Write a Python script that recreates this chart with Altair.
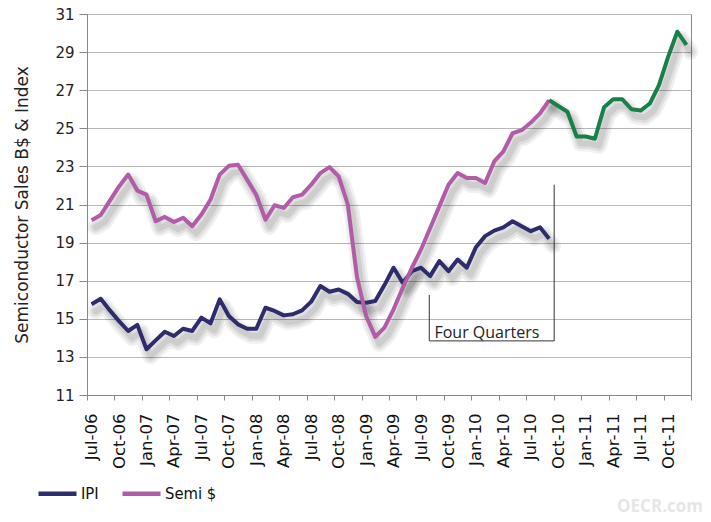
import altair as alt
import pandas as pd

# Quarter tick labels (one label every three months, Jul-06 .. Oct-11)
quarter_labels = ["Jul-06", "Oct-06", "Jan-07", "Apr-07", "Jul-07", "Oct-07",
                  "Jan-08", "Apr-08", "Jul-08", "Oct-08", "Jan-09", "Apr-09",
                  "Jul-09", "Oct-09", "Jan-10", "Apr-10", "Jul-10", "Oct-10",
                  "Jan-11", "Apr-11", "Jul-11", "Oct-11"]

# Monthly values, Jul-06 .. Sep-10
ipi = [15.76, 16.05, 15.44, 14.88, 14.36, 14.68, 13.40, 13.87, 14.32, 14.10,
       14.48, 14.36, 15.06, 14.76, 16.02, 15.15, 14.71, 14.48, 14.48, 15.58,
       15.41, 15.18, 15.24, 15.44, 15.90, 16.72, 16.42, 16.54, 16.31, 15.88,
       15.84, 15.93, 16.77, 17.68, 16.89, 17.50, 17.68, 17.24, 18.03, 17.50,
       18.11, 17.68, 18.76, 19.34, 19.63, 19.80, 20.12, 19.86, 19.60, 19.80,
       19.20]
semi = [20.17, 20.45, 21.20, 21.95, 22.57, 21.73, 21.52, 20.12, 20.35, 20.08,
        20.30, 19.86, 20.47, 21.26, 22.57, 23.03, 23.09, 22.30, 21.50, 20.20,
        20.96, 20.82, 21.38, 21.52, 22.04, 22.65, 22.96, 22.48, 21.00, 17.20,
        15.15, 14.05, 14.54, 15.50, 16.63, 17.68, 18.64, 19.77, 20.90, 22.04,
        22.65, 22.39, 22.39, 22.13, 23.26, 23.79, 24.74, 24.90, 25.30, 25.78,
        26.48]
# Recent semiconductor sales, Sep-10 .. Dec-11 (green)
semi_recent = [26.48, 26.17, 25.87, 24.57, 24.57, 24.45, 26.10, 26.52, 26.52,
               26.00, 25.93, 26.30, 27.27, 28.75, 30.07, 29.38]
recent_start = len(semi) - 1

series_names = ["IPI", "Semi $", "Semi $ recent"]
series_colors = ["#2e2c6a", "#b05ca6", "#19804a"]

rows = []
for i, v in enumerate(ipi):
    rows.append({"m": i, "v": v, "s": "IPI"})
for i, v in enumerate(semi):
    rows.append({"m": i, "v": v, "s": "Semi $"})
for k, v in enumerate(semi_recent):
    rows.append({"m": recent_start + k, "v": v, "s": "Semi $ recent"})
df = pd.DataFrame(rows)

# "Four Quarters" bracket, in data units (month index, value)
bracket_x = [36.9, 50.55]
bracket_y_low = 13.84
bracket_y_left_top = 16.25
bracket_y_right_top = 22.04
bracket_label = "Four Quarters"

n_months = 3 * len(quarter_labels)
xscale = alt.Scale(domain=[-0.5, n_months - 0.5], nice=False, zero=False)
yscale = alt.Scale(domain=[11, 31], nice=False, zero=False)

label_js = "[" + ",".join("'%s'" % l for l in quarter_labels) + ",'']"
xaxis = alt.Axis(
    values=[-0.5 + 3 * k for k in range(len(quarter_labels) + 1)],
    labelExpr=label_js + "[round((datum.value + 0.5) / 3)]",
    labelAngle=-90, labelOffset=4.6, labelFont="DejaVu Sans", labelFontSize=16.5,
    labelColor="#111", labelPadding=13, labelFlush=False, labelOverlap=False,
    labelBound=False, tickSize=5, tickColor="#888", domainColor="#888",
    grid=False, title=None,
)
yaxis = alt.Axis(
    values=list(range(11, 32, 2)), grid=True, gridColor="#b8b8b8", gridWidth=1,
    tickSize=8, tickColor="#888", domainColor="#888", labelOverlap=False,
    labelFlush=False, labelBound=False,
    labelFont="DejaVu Sans", labelFontSize=15, labelColor="#222", labelPadding=5,
    title="Semiconductor Sales B$ & Index", titleFont="DejaVu Sans",
    titleFontSize=17, titleFontWeight="normal", titleColor="#222", titlePadding=23,
)


def X(field):
    return alt.X(field, type="quantitative", scale=xscale, axis=xaxis)


def Y(field):
    return alt.Y(field, type="quantitative", scale=yscale, axis=yaxis)


base = alt.Chart(df)

shadows = [
    base.mark_line(color="#000", opacity=op, strokeWidth=sw, xOffset=4, yOffset=7,
                   strokeJoin="round", strokeCap="round")
    .encode(x=X("m"), y=Y("v"), detail="s:N")
    for op, sw in [(0.06, 16), (0.07, 11), (0.08, 6)]
]

lines = base.mark_line(strokeWidth=4, strokeJoin="round").encode(
    x=X("m"), y=Y("v"),
    color=alt.Color("s:N", scale=alt.Scale(domain=series_names, range=series_colors),
                    legend=alt.Legend(values=["IPI", "Semi $"], orient="none",
                                      legendX=-51, legendY=458, direction="horizontal",
                                      symbolType="stroke", symbolSize=1444,
                                      symbolStrokeWidth=4.5,
                                      labelFont="DejaVu Sans Condensed",
                                      labelFontSize=16.5, labelColor="#111",
                                      columnPadding=14, labelOffset=2, title=None)),
)

bdf_v = pd.DataFrame({"m": bracket_x, "v": [bracket_y_left_top, bracket_y_right_top],
                      "v2": [bracket_y_low, bracket_y_low]})
bdf_h = pd.DataFrame({"m": [bracket_x[0]], "m2": [bracket_x[1]], "v": [bracket_y_low]})
rule_v = alt.Chart(bdf_v).mark_rule(color="#333", strokeWidth=1).encode(
    x=X("m"), y=Y("v"), y2="v2:Q")
rule_h = alt.Chart(bdf_h).mark_rule(color="#333", strokeWidth=1).encode(
    x=X("m"), x2="m2:Q", y=Y("v"))
label = alt.Chart(pd.DataFrame({"m": [43.2], "v": [14.0], "t": [bracket_label]})).mark_text(
    font="Open Sans", fontSize=16, color="#222", baseline="alphabetic", align="center"
).encode(x=X("m"), y=Y("v"), text="t:N")

watermark = alt.Chart(pd.DataFrame({"t": ["OECR.com"]})).mark_text(
    font="Open Sans", fontWeight="bold", fontSize=17, color="#e6e6e6",
    align="center", baseline="middle"
).encode(x=alt.value(573), y=alt.value(493), text="t:N")

chart = alt.layer(*shadows, rule_v, rule_h, label, lines, watermark).properties(
    width=604, height=381,
    autosize=alt.AutoSizeParams(type="none"),
    padding={"left": 87, "top": 14, "right": 20, "bottom": 127},
    background="white",
).configure_view(stroke="#888", strokeWidth=1)

chart.save("out.html", embed_options={"renderer": "svg", "actions": False})
